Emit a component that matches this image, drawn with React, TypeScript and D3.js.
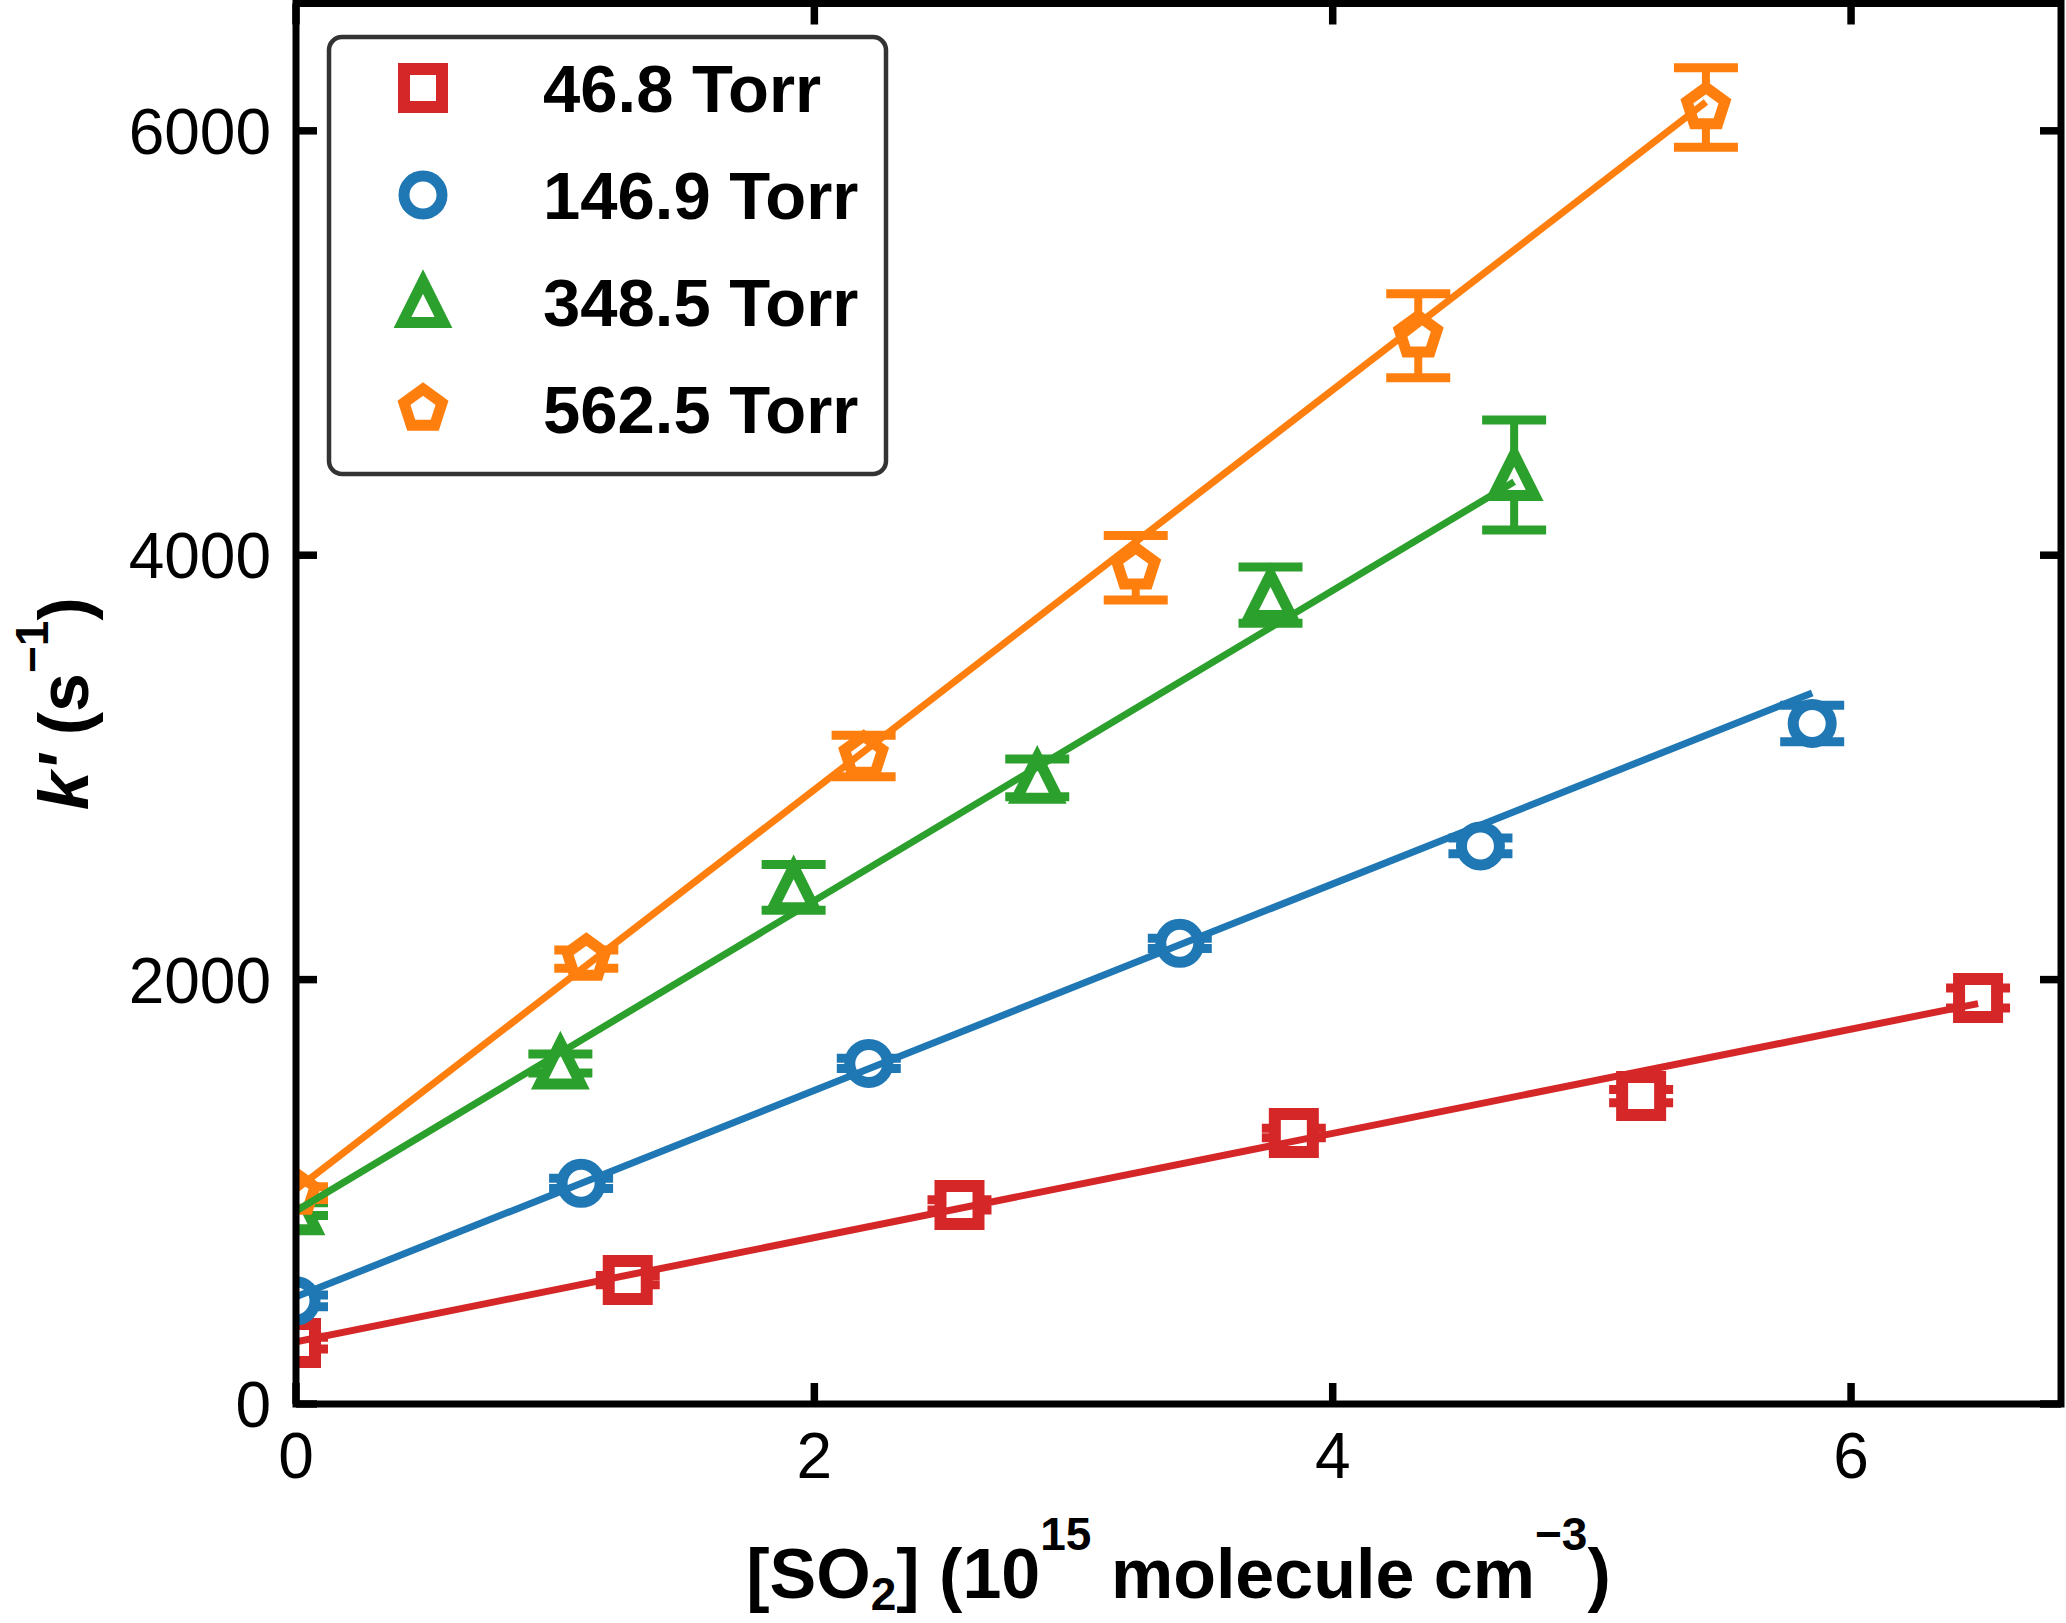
import React from 'react';
import * as d3 from 'd3';

// ---------- data ----------
const seriesLabels = ['46.8 Torr', '146.9 Torr', '348.5 Torr', '562.5 Torr'];
const seriesColors = ['#d62728', '#1f77b4', '#2ca02c', '#ff7f0e'];
const seriesMarkers = ['square', 'circle', 'triangle', 'pentagon'];

const xRed = [0.0, 1.28, 2.56, 3.85, 5.19, 6.49];
const yRed = [287, 584, 938, 1277, 1451, 1913];
const eRed = [28, 22, 24, 22, 31, 47];

const xBlue = [0.0, 1.1, 2.21, 3.41, 4.57, 5.85];
const yBlue = [486, 1040, 1605, 2171, 2630, 3207];
const eBlue = [28, 24, 24, 24, 37, 86];

const xGreen = [0.0, 1.02, 1.92, 2.86, 3.76, 4.7];
const yGreen = [918, 1605, 2435, 2951, 3812, 4378];
const eGreen = [30, 45, 108, 89, 133, 259];

const xOrange = [0.0, 1.12, 2.19, 3.24, 4.33, 5.44];
const yOrange = [994, 2097, 3054, 3941, 5034, 6110];
const eOrange = [30, 43, 98, 152, 198, 187];

const fitIntercepts = [293, 505, 910, 1011];
const fitSlopes = [245.6, 486.5, 731, 942];

const xTicks = [0, 2, 4, 6];
const yTicks = [0, 2000, 4000, 6000];
const xDomain = [0, 6.81];
const yDomain = [0, 6600];

// ---------- layout ----------
const W = 2066;
const H = 1623;
const PL = 296;
const PR = 2061;
const PT = 3.5;
const PB = 1404;
const FONT = "'Liberation Sans', Arial, Helvetica, sans-serif";

const xs = [xRed, xBlue, xGreen, xOrange];
const ys = [yRed, yBlue, yGreen, yOrange];
const es = [eRed, eBlue, eGreen, eOrange];

function markerPath(kind: string): string {
  if (kind === 'square') {
    const s = 19;
    return `M${-s},${-s}H${s}V${s}H${-s}Z`;
  }
  if (kind === 'triangle') {
    const r = 20.5;
    return `M0,${-r}L${r},${r}L${-r},${r}Z`;
  }
  if (kind === 'pentagon') {
    const R = 20;
    const pts = d3.range(5).map((k) => {
      const a = ((-90 + 72 * k) * Math.PI) / 180;
      return [R * Math.cos(a), R * Math.sin(a)];
    });
    return 'M' + pts.map((p) => `${p[0].toFixed(2)},${p[1].toFixed(2)}`).join('L') + 'Z';
  }
  return '';
}

function Marker({ kind, color, x, y }: { kind: string; color: string; x: number; y: number }) {
  if (kind === 'circle') {
    return <circle cx={x} cy={y} r={19} fill="#fff" stroke={color} strokeWidth={11} />;
  }
  return (
    <path
      d={markerPath(kind)}
      transform={`translate(${x},${y})`}
      fill="#fff"
      stroke={color}
      strokeWidth={kind === 'square' ? 12 : 11}
      strokeLinejoin="miter"
    />
  );
}

export default function App() {
  const x = d3.scaleLinear().domain(xDomain).range([PL, PR]);
  const y = d3.scaleLinear().domain(yDomain).range([PB, PT]);
  const capHalf = 32;

  return (
    <svg
      width={W}
      height={H}
      viewBox={`0 0 ${W} ${H}`}
      style={{ position: 'absolute', left: 0, top: 0, display: 'block', background: '#fff' }}
    >
      <defs>
        <clipPath id="plotClip">
          <rect x={PL} y={PT} width={PR - PL} height={PB - PT} />
        </clipPath>
      </defs>
      <rect x={0} y={0} width={W} height={H} fill="#fff" />

      <g clipPath="url(#plotClip)">
        {/* error bars */}
        {xs.map((xa, si) =>
          xa.map((xv, i) => {
            const cx = x(xv);
            const yt = y(ys[si][i] + es[si][i]);
            const yb = y(ys[si][i] - es[si][i]);
            return (
              <g key={`e${si}-${i}`} stroke={seriesColors[si]}>
                <line x1={cx} x2={cx} y1={yt} y2={yb} strokeWidth={8} />
                <line x1={cx - capHalf} x2={cx + capHalf} y1={yt} y2={yt} strokeWidth={9} />
                <line x1={cx - capHalf} x2={cx + capHalf} y1={yb} y2={yb} strokeWidth={9} />
              </g>
            );
          })
        )}
        {/* markers */}
        {xs.map((xa, si) =>
          xa.map((xv, i) => (
            <Marker
              key={`m${si}-${i}`}
              kind={seriesMarkers[si]}
              color={seriesColors[si]}
              x={x(xv)}
              y={y(ys[si][i])}
            />
          ))
        )}
        {/* linear fits */}
        {xs.map((xa, si) => {
          const x0 = xa[0];
          const x1 = xa[xa.length - 1];
          const pts: [number, number][] = [
            [x0, fitIntercepts[si] + fitSlopes[si] * x0],
            [x1, fitIntercepts[si] + fitSlopes[si] * x1],
          ];
          const gen = d3
            .line<[number, number]>()
            .x((d) => x(d[0]))
            .y((d) => y(d[1]));
          return (
            <path
              key={`f${si}`}
              d={gen(pts) || ''}
              fill="none"
              stroke={seriesColors[si]}
              strokeWidth={7}
              strokeLinecap="butt"
            />
          );
        })}
      </g>

      {/* ticks (inward, all four sides) */}
      <g stroke="#000" strokeWidth={7.5}>
        {xTicks.map((t) => (
          <g key={`xt${t}`}>
            <line x1={x(t)} x2={x(t)} y1={PB} y2={PB - 21} />
            <line x1={x(t)} x2={x(t)} y1={PT} y2={PT + 21} />
          </g>
        ))}
        {yTicks.map((t) => (
          <g key={`yt${t}`}>
            <line x1={PL} x2={PL + 21} y1={y(t)} y2={y(t)} />
            <line x1={PR} x2={PR - 21} y1={y(t)} y2={y(t)} />
          </g>
        ))}
      </g>

      {/* spines */}
      <rect x={PL} y={PT} width={PR - PL} height={PB - PT} fill="none" stroke="#000" strokeWidth={7} />

      {/* tick labels */}
      <g fontFamily={FONT} fontSize={64} fill="#000">
        {xTicks.map((t) => (
          <text key={`xl${t}`} x={x(t)} y={1478} textAnchor="middle">
            {t}
          </text>
        ))}
        {yTicks.map((t) => (
          <text key={`yl${t}`} x={271} y={y(t) + 23} textAnchor="end">
            {t}
          </text>
        ))}
      </g>

      {/* x axis label */}
      <text x={(PL + PR) / 2} y={1598} textAnchor="middle" fontFamily={FONT} fontSize={70} fontWeight="bold">
        <tspan>[SO</tspan>
        <tspan fontSize={46} dy={12}>2</tspan>
        <tspan dy={-12}>] (10</tspan>
        <tspan fontSize={46} dy={-48}>15</tspan>
        <tspan dy={48}> molecule cm</tspan>
        <tspan fontSize={46} dy={-48}>{'\u22123'}</tspan>
        <tspan dy={48}>)</tspan>
      </text>

      {/* y axis label */}
      <text
        transform={`translate(88,${(PT + PB) / 2}) rotate(-90)`}
        textAnchor="middle"
        fontFamily={FONT}
        fontSize={70}
        fontWeight="bold"
      >
        <tspan fontStyle="italic">k'</tspan>
        <tspan> (s</tspan>
        <tspan fontSize={46} dy={-40}>{'\u22121'}</tspan>
        <tspan dy={40}>)</tspan>
      </text>

      {/* legend */}
      <g>
        <rect x={329} y={37} width={557} height={437} rx={13} ry={13} fill="#fff" stroke="#333" strokeWidth={4.5} />
        {seriesLabels.map((lab, i) => {
          const base = 112 + i * 107;
          return (
            <g key={`lg${i}`}>
              <Marker kind={seriesMarkers[i]} color={seriesColors[i]} x={423} y={base - 24} />
              <text x={543} y={base} fontFamily={FONT} fontSize={67} fontWeight="bold" fill="#000">
                {lab}
              </text>
            </g>
          );
        })}
      </g>
    </svg>
  );
}
